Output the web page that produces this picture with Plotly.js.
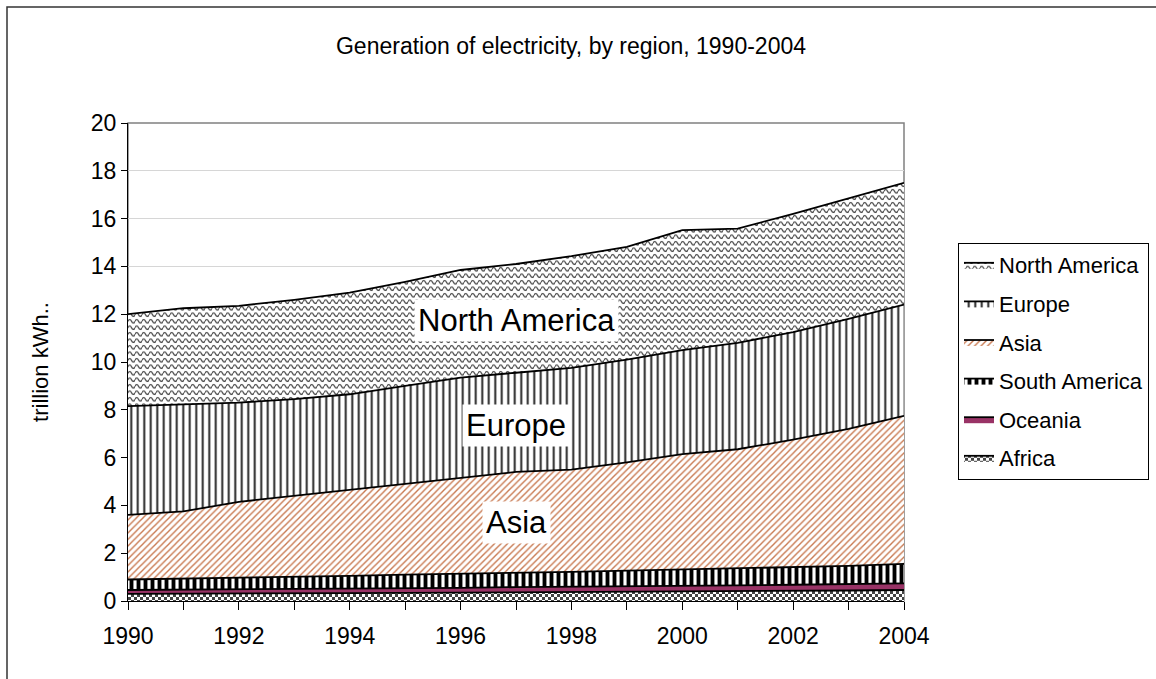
<!DOCTYPE html>
<html>
<head>
<meta charset="utf-8">
<script src="https://cdn.plot.ly/plotly-3.0.1.min.js"></script>
<style>html,body{margin:0;padding:0;background:#fff;}#chart{width:1156px;height:679px;}</style>
</head>
<body>
<div id="chart"></div>
<script>
// Data (trillion kWh)
const years = [1990,1991,1992,1993,1994,1995,1996,1997,1998,1999,2000,2001,2002,2003,2004];
const africa       = [0.30,0.30,0.31,0.32,0.33,0.34,0.35,0.37,0.38,0.39,0.40,0.41,0.43,0.44,0.46];
const oceania      = [0.16,0.17,0.17,0.18,0.18,0.19,0.20,0.21,0.21,0.22,0.23,0.24,0.25,0.26,0.28];
const southAmerica = [0.44,0.46,0.48,0.50,0.54,0.57,0.58,0.60,0.63,0.66,0.69,0.70,0.72,0.77,0.81];
const asia         = [2.70,2.82,3.19,3.40,3.60,3.80,4.02,4.22,4.28,4.53,4.83,5.00,5.35,5.73,6.20];
const europe       = [4.55,4.47,4.15,4.05,4.00,4.10,4.20,4.15,4.25,4.30,4.35,4.45,4.50,4.60,4.65];
const northAmerica = [3.85,4.03,4.05,4.15,4.25,4.35,4.50,4.55,4.68,4.72,5.02,4.78,4.95,5.05,5.10];
const seriesNames = ["Africa","Oceania","South America","Asia","Europe","North America"];
const seriesIds = ["srafr","sroce","srsam","srasi","sreur","srnam"];
const yTickVals = [0,2,4,6,8,10,12,14,16,18,20];
const xTickVals = [1990,1992,1994,1996,1998,2000,2002,2004];

const values = [africa, oceania, southAmerica, asia, europe, northAmerica];
const patterns = [
  {shape:'.', fgcolor:'#222', bgcolor:'#fff', size:4, solidity:0.55},
  null,
  {shape:'|', fgcolor:'#000', bgcolor:'#fff', size:7, solidity:0.55},
  {shape:'/', fgcolor:'#c8784f', bgcolor:'#fff', size:4.6, solidity:0.3},
  {shape:'|', fgcolor:'#222', bgcolor:'#fff', size:6.5, solidity:0.3},
  {shape:'-', fgcolor:'#777', bgcolor:'#fff', size:7, solidity:0.2}
];
const fills = ['#fff','#993366','#fff','#fff','#fff','#fff'];

const traces = values.map((v,i)=>{
  const t = {
    x: years, y: v, name: seriesNames[i], uid: seriesIds[i], type:'scatter', mode:'lines',
    stackgroup:'one', fill: i===0 ? 'tozeroy' : 'tonexty',
    fillcolor: fills[i],
    line:{color:'#000', width:1.8},
    legendgroup: seriesNames[i],
    legendrank: values.length - i,
    hoverinfo:'skip'
  };
  if (patterns[i]) t.fillpattern = patterns[i];
  return t;
});

const font = {family:'"Liberation Sans", Arial, sans-serif', color:'#000'};
const f = s => Object.assign({size:s}, font);

const layout = {
  width:1156, height:679,
  paper_bgcolor:'#fff', plot_bgcolor:'#fff',
  margin:{l:128, r:252, t:123, b:78, autoexpand:false},
  font: f(22),
  title:{text:'Generation of electricity, by region, 1990-2004', font:f(23),
         x:571/1156, xanchor:'center', y:1-46/679, yanchor:'middle'},
  xaxis:{range:[1990,2004], tickvals:xTickVals, ticks:'outside', ticklen:8, tickcolor:'#000',
         showline:true, linecolor:'#000', linewidth:1, showgrid:false, zeroline:false,
         tickfont:f(23), ticklabelstandoff:6,
         minor:{dtick:1, ticks:'outside', ticklen:8, tickcolor:'#000', showgrid:false}},
  yaxis:{range:[0,20], tickvals:yTickVals, ticks:'outside', ticklen:6, tickcolor:'#000',
         showline:true, linecolor:'#000', linewidth:1, showgrid:true, gridcolor:'#d6d6d6',
         zeroline:false, tickfont:f(23),
         title:{text:'trillion kWh..', font:f(22), standoff:36}},
  legend:{x:(958-128)/776, xanchor:'left', y:(601-243)/478, yanchor:'top',
          bordercolor:'#000', borderwidth:1, bgcolor:'#fff',
          traceorder:'grouped', tracegroupgap:7,
          font:f(22)},
  shapes:[
    {type:'rect', xref:'paper', yref:'paper', x0:0, x1:1, y0:0, y1:1, line:{color:'#808080', width:1.5}, layer:'below'},
    {type:'rect', xref:'paper', yref:'paper', x0:(7-128)/776, x1:2, y0:-1, y1:(601-7)/478, line:{color:'#333', width:1.5}, layer:'below'}
  ],
  annotations:[
    {x:1997, y:11.72, text:'North America', showarrow:false, bgcolor:'#fff', font:f(31), borderpad:3},
    {x:1997, y:7.36, text:'Europe', showarrow:false, bgcolor:'#fff', font:f(31), borderpad:3},
    {x:1997, y:3.3, text:'Asia', showarrow:false, bgcolor:'#fff', font:f(31), borderpad:3}
  ],
  showlegend:true
};

const NS = 'http://www.w3.org/2000/svg';
function ensureDefs(svg){
  let defs = svg.querySelector('defs');
  if (!defs) { defs = document.createElementNS(NS,'defs'); svg.insertBefore(defs, svg.firstChild); }
  if (!svg.querySelector('#waveTex')) {
    const wave = document.createElementNS(NS,'pattern');
    wave.setAttribute('id','waveTex'); wave.setAttribute('patternUnits','userSpaceOnUse');
    wave.setAttribute('width','7'); wave.setAttribute('height','6.5');
    const wbg = document.createElementNS(NS,'rect');
    wbg.setAttribute('width','7'); wbg.setAttribute('height','6.5'); wbg.setAttribute('fill','#fff');
    wave.appendChild(wbg);
    const wp = document.createElementNS(NS,'path');
    wp.setAttribute('d','M0,3.25 C1.1,0.9 2.4,0.9 3.5,3.25 C4.6,5.6 5.9,5.6 7,3.25');
    wp.setAttribute('fill','none'); wp.setAttribute('stroke','#444'); wp.setAttribute('stroke-width','1.3');
    wave.appendChild(wp);
    defs.appendChild(wave);
  }
  if (!svg.querySelector('#chkTex')) {
    const chk = document.createElementNS(NS,'pattern');
    chk.setAttribute('id','chkTex'); chk.setAttribute('patternUnits','userSpaceOnUse');
    chk.setAttribute('width','6'); chk.setAttribute('height','6');
    [[0,0,6,6,'#fff'],[0,0,3,3,'#444'],[3,3,3,3,'#444']].forEach(r=>{
      const e = document.createElementNS(NS,'rect');
      e.setAttribute('x',r[0]); e.setAttribute('y',r[1]); e.setAttribute('width',r[2]); e.setAttribute('height',r[3]); e.setAttribute('fill',r[4]);
      chk.appendChild(e);
    });
    defs.appendChild(chk);
  }
}
const texFor = {'North America':'url(#waveTex)', 'Africa':'url(#chkTex)'};
const texForId = {'srnam':'url(#waveTex)', 'srafr':'url(#chkTex)'};
function applyTex(p, tex){
  p.setAttribute('fill', tex);
  p.style.setProperty('fill', tex, 'important');
}
function addTextures(){
  try {
    const gd = document.getElementById('chart');
    const svgs = gd.querySelectorAll('svg.main-svg');
    if (!svgs.length) return;
    svgs.forEach(ensureDefs);
    gd.querySelectorAll('path.js-fill, .legendfill path').forEach(p=>{
      let nm = null;
      const d = p.__data__;
      if (d && d[0] && d[0].trace) nm = d[0].trace.name;
      if (nm && texFor[nm]) { applyTex(p, texFor[nm]); return; }
      const st = (p.getAttribute('style') || '');
      for (const id in texForId) {
        if (st.indexOf(id) !== -1) { applyTex(p, texForId[id]); return; }
      }
    });
    gd.querySelectorAll('.legend .traces').forEach(item=>{
      const txt = item.querySelector('.legendtext');
      if (!txt) return;
      const nm = txt.textContent;
      if (texFor[nm]) item.querySelectorAll('.legendfill path').forEach(p=>applyTex(p, texFor[nm]));
    });
  } catch (e) { console.error(e); }
}

const gdEl = document.getElementById('chart');
const pr = Plotly.newPlot(gdEl, traces, layout, {staticPlot:true, displayModeBar:false});
addTextures();
if (pr && pr.then) pr.then(()=>{
  addTextures();
  gdEl.on('plotly_afterplot', addTextures);
});
setTimeout(addTextures, 0);
setTimeout(addTextures, 100);
</script>
</body>
</html>
